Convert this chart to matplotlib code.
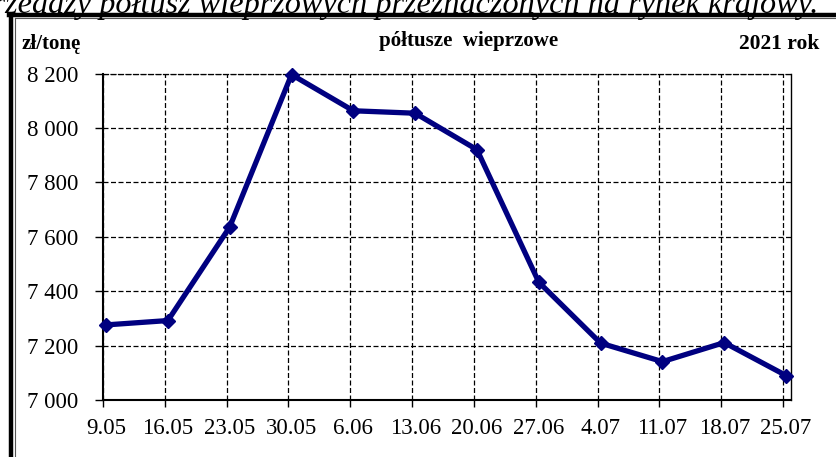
import matplotlib
matplotlib.use('Agg')
import matplotlib.pyplot as plt
from matplotlib.lines import Line2D

dates = ['9.05', '16.05', '23.05', '30.05', '6.06', '13.06',
         '20.06', '27.06', '4.07', '11.07', '18.07', '25.07']
prices = [7276, 7292, 7636, 8196, 8063, 8054, 7920, 7433, 7209, 7141, 7211, 7090]
yticks = [7000, 7200, 7400, 7600, 7800, 8000, 8200]

plt.rcParams['font.family'] = ['Liberation Serif', 'DejaVu Serif']

fig = plt.figure(figsize=(8.36, 4.57), dpi=100)
ax = fig.add_axes([103/836, 1-400/457, 688/836, 326.5/457])

x = list(range(len(dates)))
ax.plot(x, prices, color='#000080', lw=3.8, marker='D', ms=7.5,
        mec='#000080', mfc='#000080', clip_on=False, zorder=5)

ax.set_xlim(-0.05, 11.08)
ax.set_ylim(7000, 8200)

# gridlines / tick marks on category boundaries, labels at points
bounds = [i - 0.05 for i in x]
ax.set_xticks(bounds)
ax.set_xticklabels([])
ax.set_xticks(x, minor=True)
ax.set_xticklabels(dates, minor=True, fontsize=16.5)
ax.tick_params(axis='x', which='major', length=5, width=1, direction='out')
ax.tick_params(axis='x', which='minor', length=0, pad=13)

ax.set_yticks(yticks)
ax.set_yticklabels([f'{v // 1000} {v % 1000:03d}' for v in yticks], fontsize=16.5)
ax.tick_params(axis='y', length=6, width=1, direction='out', pad=12)

ax.grid(True, which='major', color='black', ls=(0, (4, 2)), lw=0.9)
ax.set_axisbelow(True)

for s in ['left', 'bottom']:
    ax.spines[s].set_linewidth(1.5)
ax.spines['right'].set_linewidth(1.0)
ax.spines['top'].set_linewidth(0.9)
ax.spines['top'].set_linestyle((0, (4, 2)))

fig.text(22/836, 1-49/457, 'zł/tonę', fontsize=15, fontweight='bold', va='baseline')
fig.text(469/836, 1-46/457, 'półtusze  wieprzowe', fontsize=15, fontweight='bold',
         va='baseline', ha='center')
fig.text(819/836, 1-49/457, '2021 rok', fontsize=15.5, fontweight='bold',
         va='baseline', ha='right')

# caption above the chart, cut off by the image edge as in the source
fig.text(818/836, 1-12.5/457,
         'cen sprzedaży półtusz wieprzowych przeznaczonych na rynek krajowy.',
         fontsize=23.2, style='italic', va='baseline', ha='right')

# chart border
fig.add_artist(Line2D([11/836, 11/836], [-0.1, 1-14.5/457], color='black', lw=3.2))
fig.add_artist(Line2D([9/836, 1.1], [1-14.5/457, 1-14.5/457], color='black', lw=3.2))
fig.add_artist(Line2D([15/836, 15/836], [-0.1, 1-18/457], color='#555555', lw=0.8))
fig.add_artist(Line2D([15/836, 1.1], [1-18/457, 1-18/457], color='#555555', lw=0.8))

fig.savefig('out.png', dpi=100)
